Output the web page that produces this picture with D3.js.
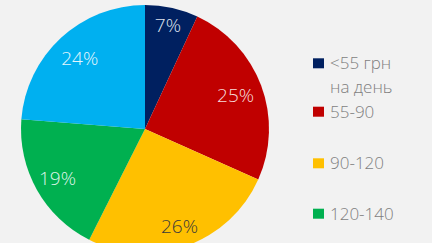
<!DOCTYPE html>
<html><head><meta charset="utf-8">
<script src="https://cdn.jsdelivr.net/npm/d3@7/dist/d3.min.js"></script>
<style>
html,body{margin:0;padding:0;background:#f2f2f2;overflow:hidden;}
svg{display:block;}
</style></head>
<body>
<script>
const categories = ["<55 грн\nна день", "55-90", "90-120", "120-140", ">140"];
const values = [7, 25, 26, 19, 24];
const labels = ["7%", "25%", "26%", "19%", "24%"];
const colors = ["#002060", "#C00000", "#FFC000", "#00B050", "#00B0F0"];
const labelColors = ["#dfe3ee", "#f6dcdc", "#3a3a3a", "#dff5e8", "#e4f6fd"];
const visibleLegend = 4; // the last legend entry lies below the visible area

const W = 432, H = 243;
const svg = d3.select("body").append("svg").attr("width", W).attr("height", H);
svg.append("rect").attr("width", W).attr("height", H).attr("fill", "#f2f2f2");

const cx = 145, cy = 129, r = 124;
const pie = d3.pie().sort(null).value(d => d)(values);
const arc = d3.arc().innerRadius(0).outerRadius(r);

const g = svg.append("g").attr("transform", `translate(${cx},${cy})`);
g.selectAll("path").data(pie).join("path")
  .attr("d", arc).attr("fill", (d, i) => colors[i]);

const labelRadius = [0.855, 0.78, 0.83, 0.81, 0.775];
g.selectAll("text").data(pie).join("text")
  .attr("transform", (d, i) => {
    const a = d3.arc().innerRadius(r * labelRadius[i]).outerRadius(r * labelRadius[i]);
    return `translate(${a.centroid(d)})`;
  })
  .attr("text-anchor", "middle").attr("dy", "0.357em")
  .attr("font-family", "'Open Sans', sans-serif").attr("font-weight", 300)
  .attr("font-size", 19).attr("fill", (d, i) => labelColors[i])
  .text((d, i) => labels[i]);

const leg = svg.append("g");
const positions = [63.3, 111.7, 163.3, 213.7];
categories.slice(0, visibleLegend).forEach((c, i) => {
  const y = positions[i];
  leg.append("rect").attr("x", 313).attr("y", y - 5).attr("width", 11).attr("height", 10).attr("fill", colors[i]);
  const t = leg.append("text").attr("x", 330).attr("y", y + 6)
    .attr("font-family", "'Open Sans', sans-serif").attr("font-weight", 300)
    .attr("font-size", 17).attr("fill", "#7f7f7f");
  c.split("\n").forEach((line, j) => {
    t.append("tspan").attr("x", 330).attr("dy", j === 0 ? 0 : 24).text(line);
  });
});
</script>
</body></html>
